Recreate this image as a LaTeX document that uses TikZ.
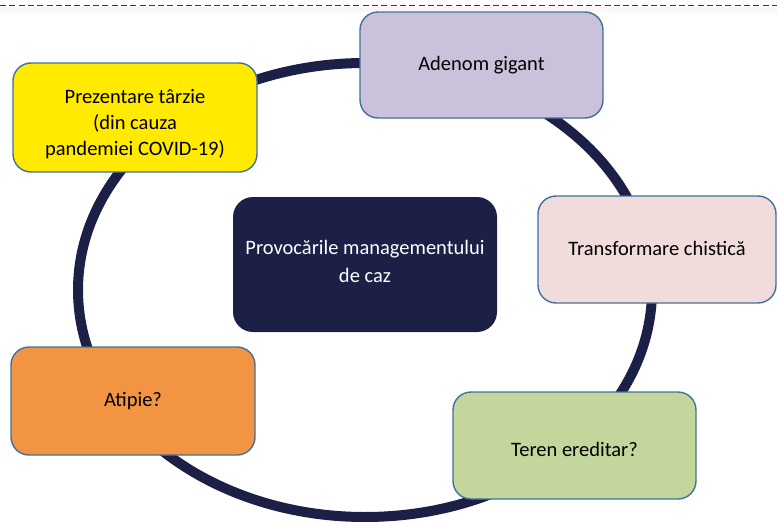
\documentclass[tikz,border=0pt]{standalone}
\usepackage{fontspec}
\setmainfont{Carlito}
\definecolor{navy}{HTML}{1C1F46}
\definecolor{bord}{HTML}{41719C}
\definecolor{cyel}{HTML}{FFEA00}
\definecolor{clav}{HTML}{CBC1DB}
\definecolor{cpink}{HTML}{F2DCDB}
\definecolor{cgreen}{HTML}{C3D69B}
\definecolor{corange}{HTML}{F29441}
\definecolor{dashred}{HTML}{C00000}
\definecolor{bandpink}{HTML}{FDF3F3}
\newcommand{\shiftink}[2]{\raisebox{#1}[\height][\depth]{#2}}
\begin{document}
\begin{tikzpicture}[x=1pt,y=-1pt,
  ring/.style={draw=navy,line width=10pt},
  boxnode/.style={draw=bord,line width=1.4pt,rounded corners=18pt,
    inner sep=0pt,align=center,font=\fontsize{20.5}{26}\selectfont,text=black},
  centrebox/.style={fill=navy,rounded corners=20pt,inner sep=0pt,align=center,
    font=\fontsize{20.5}{28}\selectfont,text=white}]
\useasboundingbox (0,0) rectangle (777,522);
\fill[white] (0,0) rectangle (777,522);
\fill[bandpink] (0,7) rectangle (777,11);
\draw[dashred,line width=1.6pt,dash pattern=on 6pt off 3.3pt] (0,5.5) -- (777,5.5);
\draw[ring] (365,290) ellipse [x radius=287pt, y radius=227pt];
\node[boxnode,fill=cyel,minimum width=244pt,minimum height=109pt] (late) at (135,117.5)
  {\shiftink{-7pt}{\begin{tabular}{@{}c@{}}Prezentare târzie\\(din cauza\\pandemiei COVID-19)\end{tabular}}};
\node[boxnode,fill=clav,minimum width=243pt,minimum height=106pt] (aden) at (481.5,65)
  {Adenom gigant};
\node[boxnode,fill=cpink,minimum width=238pt,minimum height=107pt] (chist) at (657,249.5)
  {\shiftink{1pt}{Transformare chistică}};
\node[boxnode,fill=cgreen,minimum width=243pt,minimum height=107pt] (teren) at (574.5,445.5)
  {\shiftink{-3.5pt}{Teren ereditar?}};
\node[boxnode,fill=corange,minimum width=244pt,minimum height=108pt] (atip) at (133,401)
  {Atipie?};
\node[centrebox,minimum width=264pt,minimum height=135pt] (centre) at (365,264.5)
  {\shiftink{2pt}{\begin{tabular}{@{}c@{}}Provocările managementului\\de caz\end{tabular}}};
\end{tikzpicture}
\end{document}
